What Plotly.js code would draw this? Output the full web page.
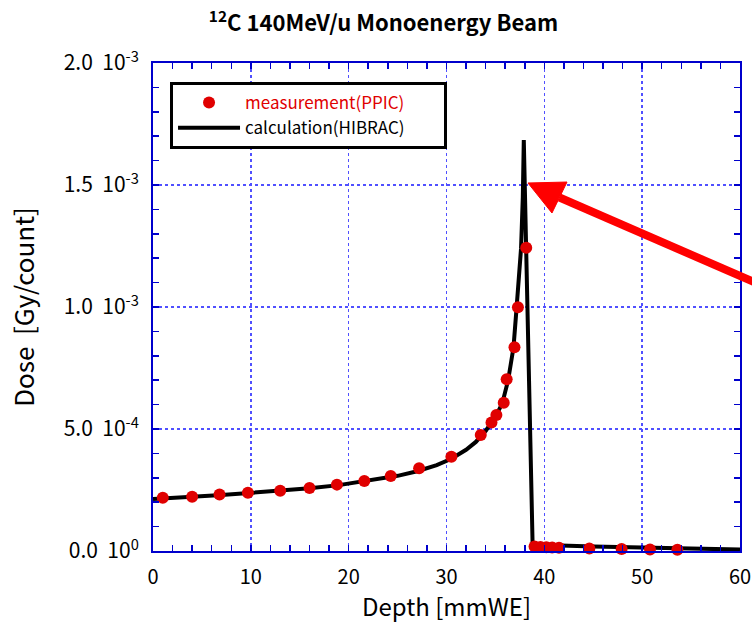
<!DOCTYPE html>
<html>
<head>
<meta charset="utf-8">
<script src="https://cdn.plot.ly/plotly-3.0.1.min.js"></script>
<style>html,body{margin:0;padding:0;background:#fff;}#chart{width:752px;height:623px;}</style>
</head>
<body>
<div id="chart"></div>
<script>
// Measurement (PPIC) points
const measDepth = [1.0, 4.0, 6.8, 9.7, 13.0, 16.0, 18.8, 21.6, 24.3, 27.2, 30.5,
  33.5, 34.6, 35.1, 35.85, 36.15, 36.95, 37.3, 38.15,
  39.0, 39.6, 40.2, 40.8, 41.5, 44.6, 47.9, 50.8, 53.6];
const measDose = [0.218e-3, 0.222e-3, 0.232e-3, 0.239e-3, 0.247e-3, 0.258e-3, 0.272e-3, 0.287e-3, 0.307e-3, 0.339e-3, 0.386e-3,
  0.475e-3, 0.527e-3, 0.557e-3, 0.608e-3, 0.704e-3, 0.835e-3, 0.999e-3, 1.243e-3,
  0.018e-3, 0.016e-3, 0.015e-3, 0.014e-3, 0.013e-3, 0.010e-3, 0.008e-3, 0.006e-3, 0.005e-3];

// Calculation (HIBRAC) curve
const calcDepth = [0, 1, 4, 7, 10, 13, 16, 19, 22, 25, 27, 29, 30.5, 32, 33, 34, 35, 35.7, 36.3, 36.85, 37.17, 37.45, 37.62, 37.8, 37.9,
  38.8, 40, 45, 50, 55, 60];
const calcDose = [0.213e-3, 0.216e-3, 0.222e-3, 0.229e-3, 0.237e-3, 0.246e-3, 0.257e-3, 0.270e-3, 0.287e-3, 0.308e-3, 0.327e-3, 0.352e-3, 0.378e-3, 0.415e-3, 0.447e-3, 0.492e-3, 0.550e-3, 0.605e-3, 0.700e-3, 0.835e-3, 1.0e-3, 1.15e-3, 1.24e-3, 1.45e-3, 1.684e-3,
  0.030e-3, 0.025e-3, 0.018e-3, 0.013e-3, 0.009e-3, 0.006e-3];

const yTickVals = [0, 0.5e-3, 1.0e-3, 1.5e-3, 2.0e-3];
const yTickText = ['0.0&nbsp;&nbsp;10<sup>0</sup>', '5.0&nbsp;&nbsp;10<sup>-4</sup>', '1.0&nbsp;&nbsp;10<sup>-3</sup>', '1.5&nbsp;&nbsp;10<sup>-3</sup>', '2.0&nbsp;&nbsp;10<sup>-3</sup>'];
const xTickVals = [0, 10, 20, 30, 40, 50, 60];

const FONT = '"Noto Sans CJK JP", "DejaVu Sans", sans-serif';
const BLUE = '#0000cc';
const GRID = '#5050ff';

const traces = [
  {
    x: calcDepth, y: calcDose, type: 'scatter', mode: 'lines',
    name: 'calculation(HIBRAC)&nbsp;&nbsp;&nbsp;&nbsp;&nbsp;&nbsp;&nbsp;&nbsp;&nbsp;',
    line: {color: '#000000', width: 4},
    legendrank: 2
  },
  {
    x: measDepth, y: measDose, type: 'scatter', mode: 'markers',
    name: '<span style="color:#e00000">measurement(PPIC)</span>',
    marker: {color: '#e00000', size: 12, symbol: 'circle'},
    cliponaxis: false,
    legendrank: 1
  }
];

const layout = {
  width: 752, height: 623,
  margin: {l: 153, r: 12, t: 63, b: 72},
  paper_bgcolor: '#ffffff', plot_bgcolor: '#ffffff',
  font: {family: FONT, color: '#000000'},
  title: {
    text: '<sup>12</sup>C 140MeV/u Monoenergy Beam',
    font: {family: FONT, size: 22, color: '#000', weight: 'bold'},
    x: 0.51, xref: 'container', xanchor: 'center',
    y: 0.962, yref: 'container', yanchor: 'middle'
  },
  xaxis: {
    range: [0, 60], tickvals: xTickVals, ticktext: xTickVals.map(String),
    showline: true, linecolor: BLUE, linewidth: 2, mirror: 'allticks',
    ticks: 'inside', ticklen: 6, tickcolor: BLUE, tickwidth: 1.5,
    showgrid: true, gridcolor: GRID, gridwidth: 1.5, griddash: 'dot',
    zeroline: false,
    minor: {dtick: 2, tick0: 0, ticks: 'inside', ticklen: 6, tickcolor: BLUE, tickwidth: 1.5, showgrid: false},
    tickfont: {family: FONT, size: 20, color: '#000'},
    ticklabelstandoff: 7,
    title: {text: 'Depth [mmWE]', font: {family: FONT, size: 24, color: '#000'}, standoff: 4}
  },
  yaxis: {
    range: [0, 2.0e-3], tickvals: yTickVals, ticktext: yTickText,
    showline: true, linecolor: BLUE, linewidth: 2, mirror: 'allticks',
    ticks: 'inside', ticklen: 6, tickcolor: BLUE, tickwidth: 1.5,
    showgrid: true, gridcolor: GRID, gridwidth: 1.5, griddash: 'dot',
    zeroline: false,
    minor: {dtick: 1e-4, tick0: 0, ticks: 'inside', ticklen: 6, tickcolor: BLUE, tickwidth: 1.5, showgrid: false},
    tickfont: {family: FONT, size: 21, color: '#000'},
    ticklabelstandoff: 8,
    title: {text: 'Dose&nbsp;&nbsp;[Gy/count]', font: {family: FONT, size: 26, color: '#000'}, standoff: 22}
  },
  legend: {
    x: 0.029, y: 0.961, xanchor: 'left', yanchor: 'top',
    bgcolor: '#ffffff', bordercolor: '#000000', borderwidth: 3,
    font: {family: FONT, size: 17, color: '#000'},
    itemwidth: 62, tracegroupgap: 0
  },
  shapes: [
    {type: 'line', xref: 'paper', yref: 'paper', x0: 0.6925, y0: 0.7244, x1: 1.1022, y1: 0.5102,
     line: {color: '#ff0000', width: 8}},
    {type: 'path', xref: 'paper', yref: 'paper',
     path: 'M 0.6388 0.7541 L 0.7053 0.7561 L 0.6797 0.6926 Z',
     fillcolor: '#ff0000', line: {color: '#ff0000', width: 1}}
  ],
  showlegend: true
};

Plotly.newPlot('chart', traces, layout, {staticPlot: true, displayModeBar: false});
</script>
</body>
</html>
